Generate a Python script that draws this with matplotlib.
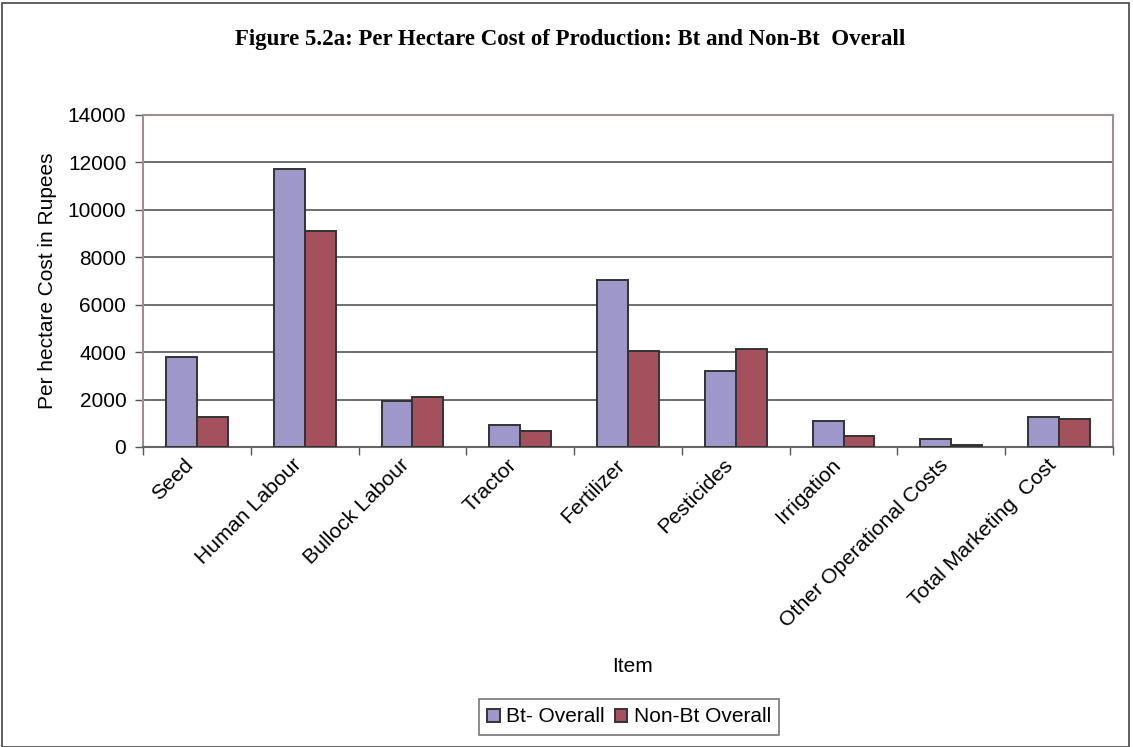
import numpy as np
import matplotlib.pyplot as plt
from matplotlib.patches import Rectangle

# Per hectare cost of production (Rupees)
items = ["Seed", "Human Labour", "Bullock Labour", "Tractor", "Fertilizer",
         "Pesticides", "Irrigation", "Other Operational Costs", "Total Marketing  Cost"]
bt_overall = [3800, 11730, 1940, 940, 7060, 3220, 1110, 330, 1275]
nonbt_overall = [1270, 9110, 2110, 690, 4050, 4135, 480, 80, 1190]

plt.rcParams["font.family"] = ["Liberation Sans", "DejaVu Sans"]

fig = plt.figure(figsize=(11.33, 7.47), dpi=100)
ax = fig.add_axes([143 / 1133, 1 - 447 / 747, 970 / 1133, 332 / 747])

x = np.arange(len(items))
w = 0.287
ax.bar(x - w / 2, bt_overall, w, color="#9D98C9", edgecolor="#333333", linewidth=1.4,
       label="Bt- Overall", zorder=3)
ax.bar(x + w / 2, nonbt_overall, w, color="#A5515D", edgecolor="#333333", linewidth=1.4,
       label="Non-Bt Overall", zorder=3)

ax.set_xlim(-0.5, len(items) - 0.5)
ax.set_ylim(0, 14000)
ax.set_yticks(np.arange(0, 14001, 2000))
ax.tick_params(axis="y", labelsize=15, length=6, color="#555555", width=1, pad=6)
ax.set_xticks(np.arange(-0.5, len(items), 1.0))
ax.set_xticklabels([])
# labels sit a little left of the category centre, as in the original
ax.set_xticks(x - 0.12, minor=True)
ax.set_xticklabels(items, minor=True, rotation=45, ha="right", rotation_mode="anchor",
                   fontsize=15.3)
ax.tick_params(axis="x", which="major", length=6, color="#555555", width=1)
ax.tick_params(axis="x", which="minor", length=0, pad=6)

ax.grid(axis="y", color="#555555", linewidth=1.2, zorder=0)
for s in ax.spines.values():
    s.set_color("#9a9090")
    s.set_linewidth(1.5)
ax.spines["bottom"].set_color("#666666")

ax.set_ylabel("Per hectare Cost in Rupees", fontsize=15, labelpad=8)
fig.text(632 / 1133, 1 - 667 / 747, "Item", fontsize=15, ha="center", va="center")
fig.text(570 / 1133, 1 - 40 / 747, "Figure 5.2a: Per Hectare Cost of Production: Bt and Non-Bt  Overall",
         fontsize=16.5, fontweight="bold", family="Liberation Serif", ha="center", va="center")

leg = ax.legend(loc="center", bbox_to_anchor=(629 / 1133, 1 - 717 / 747),
                bbox_transform=fig.transFigure, ncol=2, fontsize=15, fancybox=False,
                frameon=True, handlelength=0.6, handleheight=0.6, handletextpad=0.3,
                columnspacing=0.5, borderpad=0.4, borderaxespad=0, framealpha=1)
leg.get_frame().set_edgecolor("#777777")
leg.get_frame().set_linewidth(1.2)

# outer chart border
fig.patches.append(Rectangle((2 / 1133, 0), 1127 / 1133, 1 - 3 / 747, transform=fig.transFigure,
                             fill=False, edgecolor="#444444", linewidth=1.2))

plt.savefig("out.png", dpi=100)
